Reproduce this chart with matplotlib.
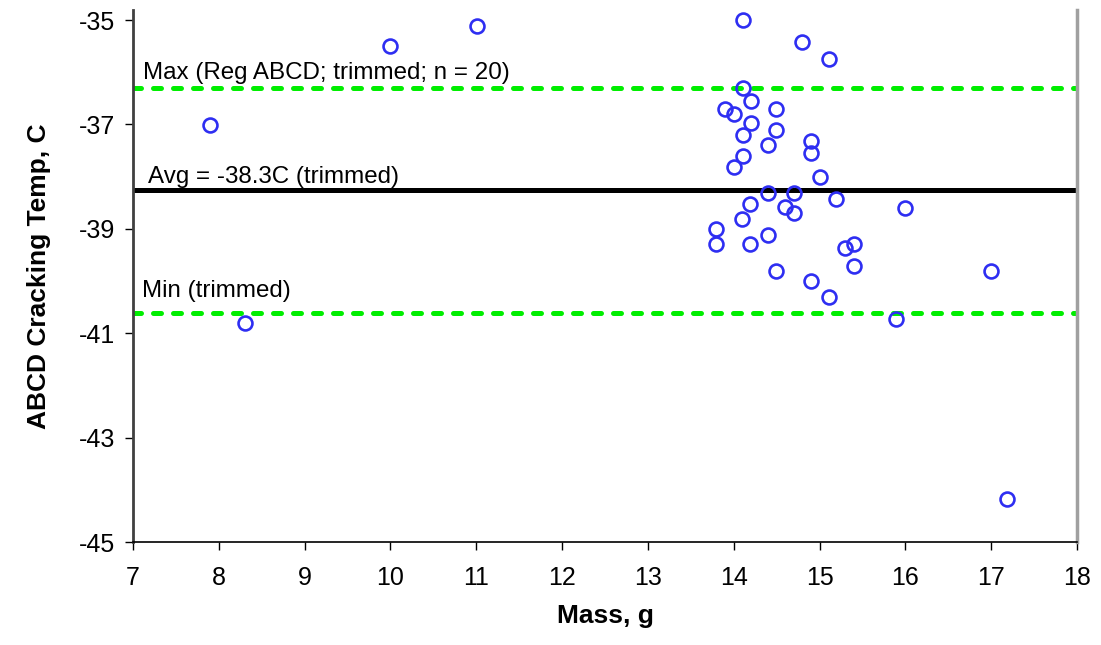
import matplotlib
matplotlib.use("Agg")
import matplotlib.pyplot as plt

plt.rcParams['font.family'] = ['Liberation Sans', 'DejaVu Sans']
plt.rcParams['axes.unicode_minus'] = False

# mass (g) and cracking temperature (C)
mass = [14.11, 14.79, 15.11, 14.11, 14.20, 13.90, 14.00, 14.49, 14.20, 14.49,
        14.11, 14.90, 14.40, 14.90, 14.11, 14.00, 15.01,
        14.40, 14.70, 15.19, 16.00, 14.19, 14.60, 14.70, 14.10, 13.79, 13.79,
        14.40, 14.19, 15.30, 15.40, 15.40, 14.49, 14.90, 15.11, 15.89,
        17.00, 7.90, 8.31, 10.00, 11.01, 17.19]
temp = [-35.00, -35.42, -35.75, -36.31, -36.55, -36.70, -36.80, -36.70, -36.97, -37.11,
        -37.21, -37.31, -37.40, -37.55, -37.60, -37.81, -38.01,
        -38.31, -38.31, -38.43, -38.60, -38.52, -38.59, -38.70, -38.82, -39.01, -39.30,
        -39.11, -39.30, -39.37, -39.30, -39.71, -39.81, -40.00, -40.30, -40.72,
        -39.81, -37.01, -40.80, -35.50, -35.11, -44.18]

max_trim = -36.31
avg_trim = -38.26
min_trim = -40.62

xticks = list(range(7, 19))
yticks = [-45, -43, -41, -39, -37, -35]

fig = plt.figure(figsize=(11.01, 6.45), dpi=100)
ax = fig.add_axes([133 / 1101, 1 - 542 / 645, (1077 - 133) / 1101, (542 - 10) / 645])

# reference lines
ax.axhline(max_trim, color='#00ee00', lw=3.6, linestyle=(0, (1.6, 2.4)),
           dash_capstyle='round', zorder=2)
ax.axhline(min_trim, color='#00ee00', lw=3.6, linestyle=(0, (1.6, 2.4)),
           dash_capstyle='round', zorder=2)
ax.axhline(avg_trim, color='black', lw=3.6, zorder=2)

ax.plot(mass, temp, linestyle='none', marker='o', markersize=10,
        markerfacecolor='none', markeredgecolor='#2e2ef2', markeredgewidth=1.9,
        clip_on=False, zorder=3)

ax.text(7.12, -36.13, 'Max (Reg ABCD; trimmed; n = 20)', fontsize=17.4, va='baseline')
ax.text(7.17, -38.13, 'Avg = -38.3C (trimmed)', fontsize=17.4, va='baseline')
ax.text(7.11, -40.30, 'Min (trimmed)', fontsize=17.4, va='baseline')

ax.set_xlim(7, 18)
ax.set_ylim(-45, -35 + 10 / 52.2)
ax.set_xticks(xticks)
ax.set_yticks(yticks)
ax.tick_params(axis='both', direction='out', length=6, width=1, labelsize=18,
               color='black')
ax.tick_params(axis='x', pad=11)
ax.tick_params(axis='y', pad=7)

ax.spines['top'].set_visible(False)
ax.spines['right'].set_color('#a0a0a0')
ax.spines['right'].set_linewidth(2.5)
ax.spines['left'].set_color('#404040')
ax.spines['left'].set_linewidth(2)
ax.spines['bottom'].set_color('black')
ax.spines['bottom'].set_linewidth(1.2)

ax.set_xlabel('Mass, g', fontsize=19, fontweight='bold', labelpad=10)
ax.set_ylabel('ABCD Cracking Temp, C', fontsize=19, fontweight='bold', labelpad=20)

fig.savefig('out.png', dpi=100)
